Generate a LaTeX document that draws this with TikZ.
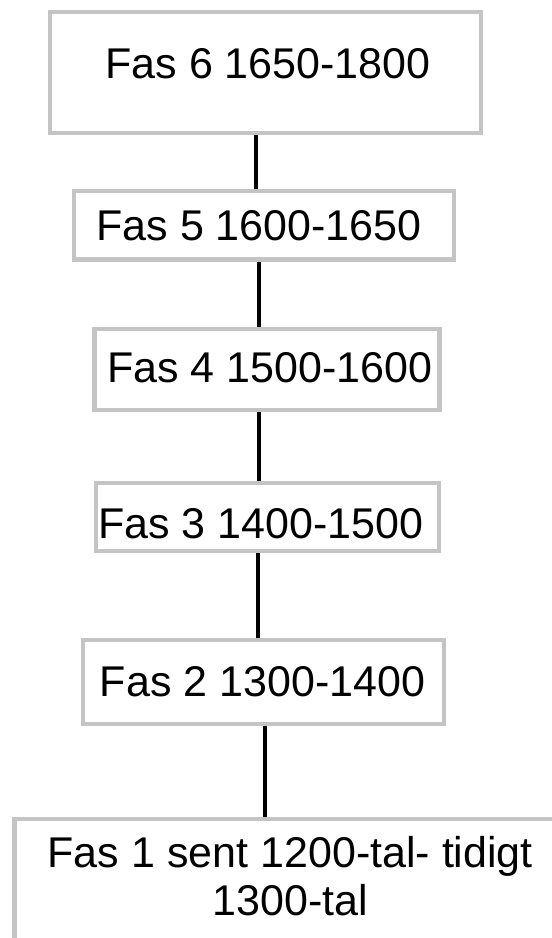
\documentclass[tikz,border=0pt]{standalone}
\usepackage{fontspec}
\setmainfont{Liberation Sans}
\usetikzlibrary{backgrounds}
\definecolor{boxgray}{RGB}{196,196,196}
\begin{document}
\begin{tikzpicture}[x=1pt,y=-1pt,
  box/.style={draw=boxgray,line width=4.3pt,rectangle,inner sep=0pt,outer sep=0pt,fill=none},
  conn/.style={draw=black,line width=4pt},
  txt/.style={inner sep=0pt,outer sep=0pt,anchor=base,text=black,font=\fontsize{43}{48}\selectfont}]
\useasboundingbox (0,0) rectangle (552,938);
\clip (0,0) rectangle (552,938);
% boxes (sized like the reference)
\node[box,minimum width=431pt,minimum height=121pt] (b6) at (265.2,72.5) {};
\node[box,minimum width=380pt,minimum height=68.5pt] (b5) at (263.8,225.25) {};
\node[box,minimum width=345pt,minimum height=81pt] (b4) at (267,369.5) {};
\node[box,minimum width=343.3pt,minimum height=67.7pt] (b3) at (267.65,517.15) {};
\node[box,minimum width=361pt,minimum height=83.8pt] (b2) at (263.8,681.9) {};
\node[box,minimum width=620pt,minimum height=240pt] (b1) at (324.5,938.8) {};
% connectors, behind the boxes
\begin{scope}[on background layer]
\fill[white] (0,0) rectangle (552,938);
\draw[conn] (b6.south -| 256.3,0) -- (b5.north -| 256.3,0);
\draw[conn] (b5.south -| 259,0) -- (b4.north -| 259,0);
\draw[conn] (b4.south -| 259.3,0) -- (b3.north -| 259.3,0);
\draw[conn] (b3.south -| 257.8,0) -- (b2.north -| 257.8,0);
\draw[conn] (b2.south -| 264.5,0) -- (b1.north -| 264.5,0);
\end{scope}
% texts
\node[txt] (t6) at (268,78.3) {Fas 6 1650-1800};
\node[txt] (t5) at (259,240.7) {Fas 5 1600-1650};
\node[txt] (t4) at (269.7,382.3) {Fas 4 1500-1600};
\node[txt] (t3) at (260.8,538.7) {Fas 3 1400-1500};
\node[txt] (t2) at (262.5,696) {Fas 2 1300-1400};
\node[txt] (t1a) at (290.3,867.3) {Fas 1 sent 1200-tal- tidigt};
\node[txt] (t1b) at (290.3,915) {1300-tal};
\end{tikzpicture}
\end{document}
